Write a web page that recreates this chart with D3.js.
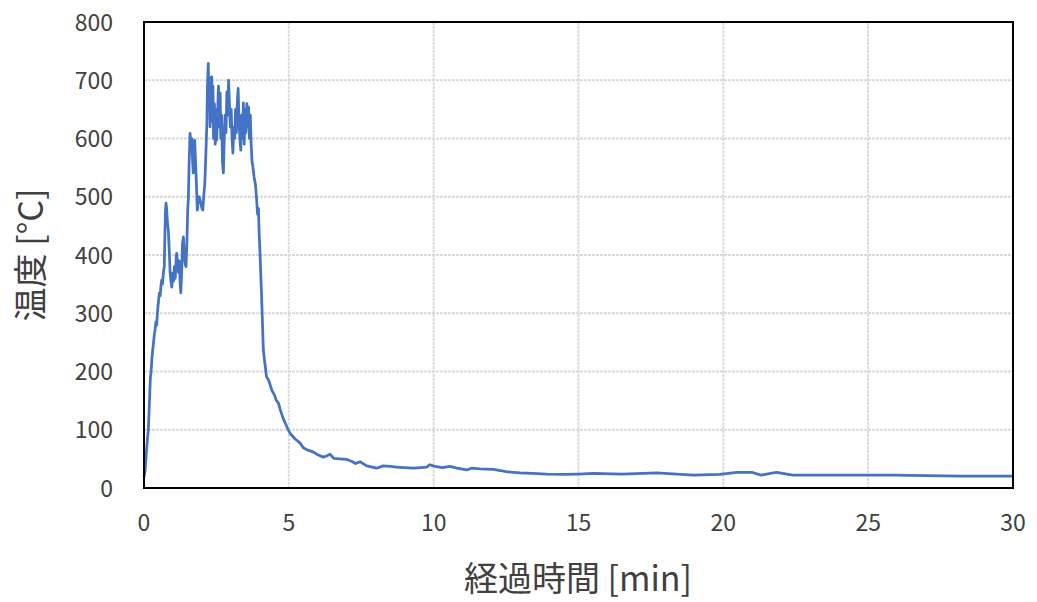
<!DOCTYPE html>
<html>
<head>
<meta charset="utf-8">
<script src="https://cdn.jsdelivr.net/npm/d3@7"></script>
<style>
  body { margin: 0; background: #fff; }
</style>
</head>
<body>
<div id="chart"></div>
<script>
// time [min]
const times = [
  0, 0.04, 0.08, 0.12, 0.15, 0.19, 0.22, 0.24, 0.27, 0.3, 0.33, 0.36, 0.38, 0.41, 0.44, 0.46,
  0.5, 0.53, 0.56, 0.58, 0.61, 0.64, 0.67, 0.7, 0.72, 0.74, 0.76, 0.78, 0.81, 0.84, 0.87, 0.9,
  0.93, 0.96, 0.99, 1.02, 1.05, 1.08, 1.11, 1.13, 1.16, 1.19, 1.22, 1.25, 1.27, 1.3, 1.33, 1.36,
  1.39, 1.42, 1.45, 1.48, 1.51, 1.53, 1.56, 1.59, 1.62, 1.65, 1.68, 1.7, 1.73, 1.75, 1.78, 1.81,
  1.84, 1.87, 1.9, 1.93, 1.96, 2.0, 2.03, 2.06,
  2.1, 2.14, 2.17, 2.19, 2.22, 2.24, 2.26, 2.28, 2.3, 2.32, 2.34, 2.36, 2.38, 2.4, 2.43, 2.46,
  2.49, 2.51, 2.54, 2.57, 2.6, 2.63, 2.65, 2.68, 2.71, 2.74, 2.77, 2.8, 2.83, 2.86, 2.89, 2.92,
  2.95, 2.98, 3.01, 3.04, 3.07, 3.1, 3.13, 3.16, 3.19, 3.22, 3.25, 3.28, 3.31, 3.34, 3.37, 3.4,
  3.43, 3.46, 3.49, 3.52, 3.55, 3.58, 3.61, 3.64, 3.67, 3.7, 3.73, 3.76, 3.8, 3.85, 3.89, 3.92,
  3.95, 3.98, 4.0, 4.06, 4.12, 4.17, 4.23, 4.3, 4.35, 4.41, 4.5, 4.57, 4.64, 4.7, 4.8, 4.87,
  4.95, 5.04, 5.2, 5.39, 5.5, 5.65, 5.84, 6.0, 6.19, 6.3, 6.42, 6.55, 6.75, 7.0, 7.2, 7.3,
  7.46, 7.69, 8.03, 8.25, 8.5, 8.72, 9.0, 9.3, 9.55, 9.76, 9.87, 10.05, 10.3, 10.56, 10.8, 11.14,
  11.3, 11.6, 12.06, 12.3, 12.5, 12.98, 13.4, 13.9, 14.5, 15.0, 15.5, 16.5, 17.7, 18.96, 19.88,
  20.46, 20.98, 21.3, 21.84, 22.4, 23.8, 25.86, 28.2, 30
];
// temperature [°C]
const temps = [
  19, 30, 60, 85, 100, 150, 190, 197, 220, 237, 250, 265, 271, 285, 280, 300,
  320, 335, 330, 345, 357, 350, 370, 380, 430, 475, 489, 480, 455, 443, 410, 370,
  355, 345, 369, 355, 380, 360, 395, 403, 385, 370, 390, 350, 335, 370, 420, 431,
  400, 385, 380, 420, 480, 494, 560, 609, 590, 600, 560, 541, 580, 597, 560, 520,
  477, 490, 500, 495, 490, 480, 477, 500,
  523, 580, 626, 690, 729, 650, 705, 620, 700, 640, 706, 630, 690, 600, 660, 590,
  650, 597, 640, 690, 620, 678, 600, 640, 560, 541, 600, 640, 610, 680, 640, 700,
  660, 620, 650, 600, 575, 620, 600, 650, 610, 660, 686, 630, 600, 580, 640, 600,
  661, 590, 650, 610, 660, 620, 654, 600, 640, 590, 560, 551, 534, 520, 494, 470,
  480, 430, 409, 328, 237, 215, 191, 185, 178, 168, 160, 150, 146, 135, 120, 112,
  103, 94, 85, 77, 69, 65, 62, 57, 53, 55, 58, 51, 50, 49, 45, 42,
  45, 38, 34, 38, 37, 36, 35, 34, 35, 36, 40, 37, 35, 37, 34, 31,
  34, 33, 32, 30, 28, 26, 25, 24, 23.5, 24, 25, 24, 26, 22, 23.5,
  27, 27, 22, 27, 22, 22, 22, 20.6, 20.6
];
const xTicks = [0, 5, 10, 15, 20, 25, 30];
const yTicks = [0, 100, 200, 300, 400, 500, 600, 700, 800];

const data = times.map(function(t, i) { return [t, temps[i]]; });

const w = 1037;
const h = 602;
const plotLeft = 144, plotRight = 1013, plotTop = 22, plotBottom = 488;
const font = "'Noto Sans CJK JP', 'Open Sans', sans-serif";

const xScale = d3.scaleLinear().domain([0, 30]).range([plotLeft, plotRight]);
const yScale = d3.scaleLinear().domain([0, 800]).range([plotBottom, plotTop]);

const svg = d3.select('#chart')
  .append('svg')
  .attr('width', w)
  .attr('height', h);

// grid
svg.selectAll('line.hgrid')
  .data(yTicks.slice(1, -1))
  .enter()
  .append('line')
  .attr('x1', plotLeft).attr('x2', plotRight)
  .attr('y1', function(d) { return yScale(d); })
  .attr('y2', function(d) { return yScale(d); })
  .attr('stroke', '#d9d9d9')
  .attr('stroke-width', 2)
  .attr('stroke-dasharray', '3,1');

svg.selectAll('line.vgrid')
  .data(xTicks.slice(1, -1))
  .enter()
  .append('line')
  .attr('y1', plotTop).attr('y2', plotBottom)
  .attr('x1', function(d) { return xScale(d); })
  .attr('x2', function(d) { return xScale(d); })
  .attr('stroke', '#d9d9d9')
  .attr('stroke-width', 2)
  .attr('stroke-dasharray', '3,1');

// data line
const line = d3.line()
  .x(function(d) { return xScale(d[0]); })
  .y(function(d) { return yScale(d[1]); });

svg.append('path')
  .datum(data)
  .attr('d', line)
  .attr('fill', 'none')
  .attr('stroke', '#4472c4')
  .attr('stroke-width', 2.75)
  .attr('stroke-linejoin', 'round');

// frame
svg.append('rect')
  .attr('x', plotLeft).attr('y', plotTop)
  .attr('width', plotRight - plotLeft).attr('height', plotBottom - plotTop)
  .attr('fill', 'none')
  .attr('stroke', '#000')
  .attr('stroke-width', 2);

// tick labels
svg.selectAll('text.ytick')
  .data(yTicks)
  .enter()
  .append('text')
  .text(function(d) { return d; })
  .attr('x', 113)
  .attr('y', function(d) { return yScale(d) + 8.5; })
  .attr('text-anchor', 'end')
  .attr('font-family', font)
  .attr('font-size', '23px')
  .attr('fill', '#404040');

svg.selectAll('text.xtick')
  .data(xTicks)
  .enter()
  .append('text')
  .text(function(d) { return d; })
  .attr('x', function(d) { return xScale(d); })
  .attr('y', 531)
  .attr('text-anchor', 'middle')
  .attr('font-family', font)
  .attr('font-size', '23px')
  .attr('fill', '#404040');

// axis titles
svg.append('text')
  .text('経過時間 [min]')
  .attr('x', 578)
  .attr('y', 591)
  .attr('text-anchor', 'middle')
  .attr('font-family', font)
  .attr('font-size', '34px')
  .attr('fill', '#404040');

svg.append('text')
  .text('温度 [°C]')
  .attr('transform', 'translate(43,255) rotate(-90)')
  .attr('text-anchor', 'middle')
  .attr('font-family', font)
  .attr('font-size', '34px')
  .attr('fill', '#404040');
</script>
</body>
</html>
